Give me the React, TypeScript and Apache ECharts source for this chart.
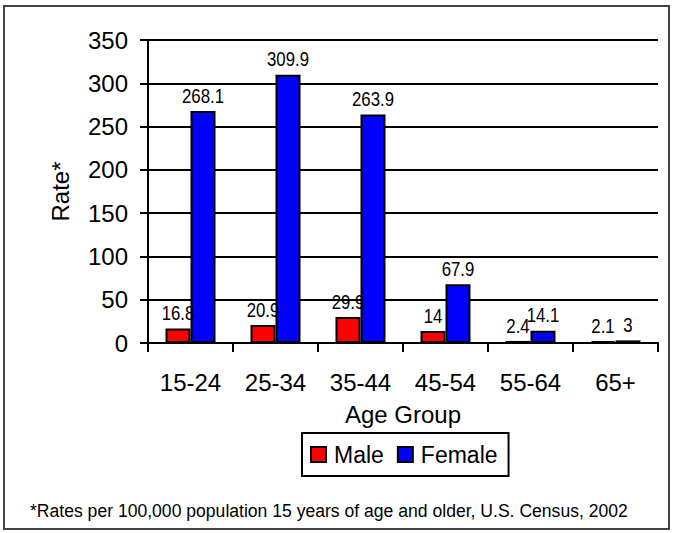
import React, { useEffect, useRef } from "react";
import * as echarts from "echarts";

const categories = ["15-24", "25-34", "35-44", "45-54", "55-64", "65+"];
const maleValues = [16.8, 20.9, 29.9, 14, 2.4, 2.1];
const femaleValues = [268.1, 309.9, 263.9, 67.9, 14.1, 3];
const yTicks = { min: 0, max: 350, interval: 50 };
const footnote = "*Rates per 100,000 population 15 years of age and older, U.S. Census, 2002";

const SANS = "Liberation Sans";
const BAR_W = 25;

function measure(text: string, font: string): number {
  const c = document.createElement("canvas").getContext("2d")!;
  c.font = font;
  return c.measureText(text).width;
}

export default function App() {
  const ref = useRef<HTMLDivElement>(null);
  useEffect(() => {
    document.body.style.margin = "0";
    const chart = echarts.init(ref.current!, null, { renderer: "svg" });
    const footFont = `19px ${SANS}`;
    const footScale = 598 / measure(footnote, footFont);

    const labelSeries = (name: string, values: number[], offset: number) => ({
      name,
      type: "custom",
      silent: true,
      z: 10,
      data: values.map((v, i) => [i, v]),
      encode: { x: 0, y: 1 },
      renderItem: (_p: any, api: any) => {
        const pt = api.coord([api.value(0), api.value(1)]);
        return {
          type: "text",
          x: pt[0] + offset,
          y: pt[1] - 5,
          scaleX: 0.8,
          style: {
            text: String(api.value(1)),
            font: `21px ${SANS}`,
            fontSize: 21,
            fontFamily: SANS,
            fill: "#000",
            align: "center",
            verticalAlign: "bottom",
          },
        };
      },
    });

    chart.setOption({
      animation: false,
      backgroundColor: "#fff",
      grid: { left: 148, top: 40, right: 15, bottom: 190 },
      legend: {
        left: 302,
        top: 433,
        orient: "horizontal",
        borderColor: "#000",
        borderWidth: 2,
        padding: [10, 11, 10, 8],
        itemGap: 13,
        itemWidth: 15,
        itemHeight: 15,
        icon: "rect",
        textStyle: { fontFamily: SANS, fontSize: 23, color: "#000", padding: [0, 0, 0, 3] },
        data: ["Male", "Female"],
      },
      xAxis: {
        type: "category",
        data: categories,
        axisLine: { lineStyle: { color: "#000", width: 2 } },
        axisTick: { show: true, length: 9, lineStyle: { color: "#000", width: 2 } },
        axisLabel: { fontFamily: SANS, fontSize: 24, color: "#000", margin: 27 },
        name: "Age Group",
        nameLocation: "middle",
        nameGap: 59,
        nameTextStyle: { fontFamily: SANS, fontSize: 24, color: "#000" },
      },
      yAxis: {
        type: "value",
        min: yTicks.min,
        max: yTicks.max,
        interval: yTicks.interval,
        axisLine: { show: true, lineStyle: { color: "#000", width: 2 } },
        axisTick: { show: true, length: 8, lineStyle: { color: "#000", width: 2 } },
        axisLabel: { fontFamily: SANS, fontSize: 24, color: "#000", margin: 20 },
        splitLine: { show: true, lineStyle: { color: "#000", width: 2 } },
        name: "Rate*",
        nameLocation: "middle",
        nameGap: 76,
        nameRotate: 90,
        nameTextStyle: { fontFamily: SANS, fontSize: 24, color: "#000" },
      },
      series: [
        {
          name: "Male",
          type: "bar",
          data: maleValues,
          barWidth: BAR_W,
          barGap: "0%",
          itemStyle: { color: "#ff0000", borderColor: "#000", borderWidth: 2 },
        },
        {
          name: "Female",
          type: "bar",
          data: femaleValues,
          barWidth: BAR_W,
          barGap: "0%",
          itemStyle: { color: "#0000ff", borderColor: "#000", borderWidth: 2 },
        },
        labelSeries("Male labels", maleValues, -BAR_W / 2),
        labelSeries("Female labels", femaleValues, BAR_W / 2),
      ],
      graphic: [
        {
          type: "rect",
          shape: { x: 4, y: 6, width: 665, height: 523 },
          style: { fill: "none", stroke: "#444", lineWidth: 2 },
          silent: true,
        },
        {
          type: "text",
          x: 30,
          y: 510,
          scaleX: footScale,
          style: {
            text: footnote,
            fontFamily: SANS,
            fontSize: 19,
            fill: "#000",
            verticalAlign: "middle",
          },
        },
      ],
    });
    return () => chart.dispose();
  }, []);
  return (
    <div
      ref={ref}
      style={{ position: "absolute", left: 0, top: 0, width: 673, height: 533 }}
    />
  );
}
